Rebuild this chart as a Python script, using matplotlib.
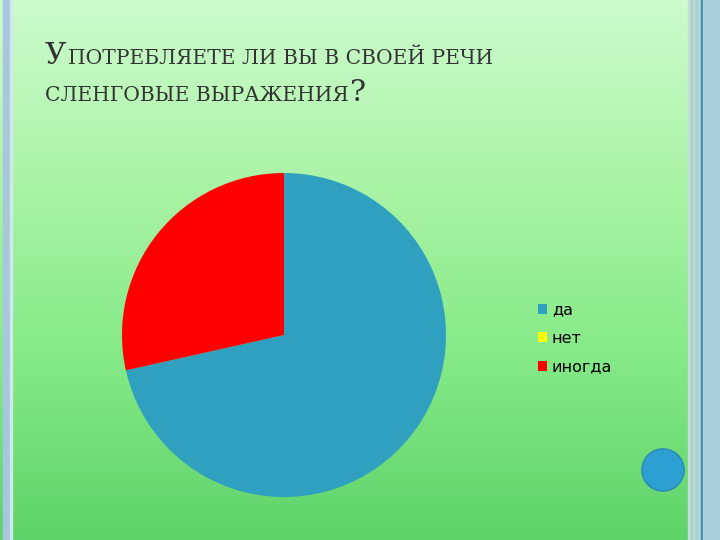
import numpy as np
import matplotlib
matplotlib.use("Agg")
import matplotlib.pyplot as plt
from matplotlib.patches import Rectangle, Circle
from matplotlib.colors import LinearSegmentedColormap

# Data
categories = ["да", "нет", "иногда"]
values = [71.5, 0.0, 28.5]
colors = ["#2fa0c0", "#ffff00", "#ff0000"]
title_line1 = ("У", "ПОТРЕБЛЯЕТЕ ЛИ ВЫ В СВОЕЙ РЕЧИ")
title_line2 = ("СЛЕНГОВЫЕ ВЫРАЖЕНИЯ", "?")

W, H = 720, 540
fig = plt.figure(figsize=(7.2, 5.4), dpi=100)

# Background
bg = fig.add_axes([0, 0, 1, 1], zorder=0)
bg.set_xlim(0, W)
bg.set_ylim(H, 0)
bg.axis("off")
cmap = LinearSegmentedColormap.from_list(
    "g", [(0.0, "#cdfbcd"), (0.35, "#a9f3a5"), (0.65, "#86ea88"), (1.0, "#5ed36a")])
grad = np.linspace(0, 1, 256).reshape(-1, 1)
bg.imshow(grad, cmap=cmap, aspect="auto", extent=(0, W, H, 0), zorder=0)
# left strip
bg.add_patch(Rectangle((3, 0), 7, H, color="#a8c6dc", zorder=1))
bg.add_patch(Rectangle((10, 0), 2, H, color="#cfe8ec", zorder=1))
# right decorations
bg.add_patch(Rectangle((688, 0), 3, H, color="#c4dcd8", zorder=1))
bg.add_patch(Rectangle((691, 0), 2, H, color="#9fd6c0", zorder=1))
bg.add_patch(Rectangle((693, 0), 3, H, color="#bcd6dc", zorder=1))
bg.add_patch(Rectangle((696, 0), 2, H, color="#a6d0c8", zorder=1))
bg.add_patch(Rectangle((698, 0), 3, H, color="#b4d4e0", zorder=1))
bg.add_patch(Rectangle((701, 0), 2, H, color="#3c8ea4", zorder=1))
bg.add_patch(Rectangle((703, 0), 17, H, color="#a9cfd8", zorder=1))
bg.add_patch(Circle((663, 470), 21, facecolor="#2e9fd2", edgecolor="#2a8cb8", lw=1.2, zorder=2))

# Title (small caps simulation)
fig.canvas.draw()
r = fig.canvas.get_renderer()
serif = "DejaVu Serif"
tcol = "#333333"
BIG, SMALL = 21.5, 14.6
def small_caps(x, y, first, second, big_first=True):
    s1, s2 = (BIG, SMALL) if big_first else (SMALL, BIG)
    t1 = bg.text(x, y, first, fontsize=s1, family=serif, color=tcol, va="baseline", zorder=3)
    bb = t1.get_window_extent(r)
    bg.text(x + bb.width + 1, y, second, fontsize=s2, family=serif, color=tcol, va="baseline", zorder=3)
small_caps(45, 64, title_line1[0], title_line1[1])
small_caps(45, 101, title_line2[0], title_line2[1], big_first=False)

# Pie
cx, cy, rad = 284, 335, 162
ax = fig.add_axes([(cx - rad) / W, (H - cy - rad) / H, 2 * rad / W, 2 * rad / H], zorder=1)
wedges, _ = ax.pie(values, colors=colors, startangle=90, counterclock=False,
                   radius=1, wedgeprops=dict(linewidth=0))
ax.set_xlim(-1, 1)
ax.set_ylim(-1, 1)
ax.set_aspect("equal")
ax.axis("off")

fig.legend(wedges, categories, loc="upper left", bbox_to_anchor=(524 / W, 1 - 288 / H),
           frameon=False, handlelength=0.55, handleheight=0.55,
           handletextpad=0.3, labelspacing=0.85, prop=dict(family="DejaVu Sans", size=11.5))

fig.savefig("out.png", dpi=100)
